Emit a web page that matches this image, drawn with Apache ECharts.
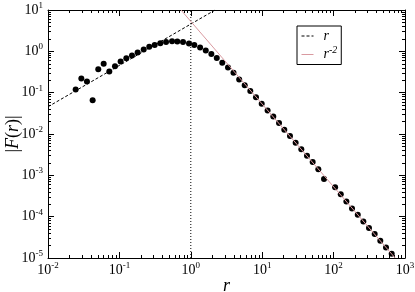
<!DOCTYPE html>
<html>
<head>
<meta charset="utf-8">
<script src="https://cdn.jsdelivr.net/npm/echarts@6/dist/echarts.min.js"></script>
<style>
  html, body { margin: 0; padding: 0; background: #fff; }
  #chart { width: 415px; height: 292px; }
</style>
</head>
<body>
<div id="chart"></div>
<script>
// ---- data ----
const rVals = [0.0244, 0.0293, 0.0351, 0.0422, 0.0506, 0.0602, 0.0722, 0.0867, 0.104, 0.125,
  0.150, 0.180, 0.219, 0.262, 0.312, 0.374, 0.450, 0.546, 0.647, 0.778,
  0.944, 1.12, 1.35, 1.62, 1.94, 2.31, 2.76, 3.32, 3.96, 4.76,
  5.69, 6.81, 8.18, 9.84, 11.9, 14.3, 17.2, 20.4, 24.5, 29.4,
  35.3, 42.4, 50.9, 61.1, 73.4, 105, 126, 151, 181, 218,
  261, 313, 376, 451, 542, 651]
const fVals = [0.120, 0.221, 0.187, 0.066, 0.371, 0.498, 0.326, 0.438, 0.568, 0.683,
  0.793, 0.937, 1.11, 1.29, 1.43, 1.57, 1.69, 1.76, 1.74, 1.69,
  1.55, 1.42, 1.24, 1.05, 0.867, 0.694, 0.526, 0.409, 0.305, 0.209,
  0.152, 0.109, 0.0773, 0.0536, 0.0369, 0.0264, 0.0184, 0.0127, 0.00894, 0.00617,
  0.00427, 0.00299, 0.00211, 0.00141, 0.000811, 0.000516, 0.000350, 0.000232, 0.000157, 0.000112,
  0.0000760, 0.0000532, 0.0000379, 0.0000263, 0.0000179, 0.0000127]

// 参考线 r（虚线）和 r^-2（粉线），端点
const lineRX = [0.01, 2.19]
const lineRY = [0.0456, 10]
const lineR2X = [0.728, 728]
const lineR2Y = [10, 0.00001]
// x = 1 的竖直点线
const vLineX = [1, 1]
const vLineY = [0.00001, 10]

// 刻度
const xTickExp = [-2, -1, 0, 1, 2, 3]
const yTickExp = [-5, -4, -3, -2, -1, 0, 1]

const xMajor = xTickExp.map(e => Math.pow(10, e))
const yMajor = yTickExp.map(e => Math.pow(10, e))
function minorOf(major) {
  const out = []
  major.slice(0, -1).forEach(d => { for (let k = 2; k <= 9; k++) out.push(d * k) })
  return out
}
const xMinor = minorOf(xMajor)
const yMinor = minorOf(yMajor)

const serif = 'Liberation Serif'
const tickRich = {
  b: { fontSize: 14, fontFamily: serif, color: '#000' },
  s: { fontSize: 9, fontFamily: serif, color: '#000', padding: [0, 0, 9, 0] }
}
function powLabel(v) {
  const e = Math.round(Math.log10(v))
  return '{b|10}{s|' + e + '}'
}

function logAxis(kind, pos, ticks, len, withLabel, withLine) {
  const isX = kind === 'x'
  return {
    type: 'log',
    logBase: 10,
    position: pos,
    min: isX ? 0.01 : 0.00001,
    max: isX ? 1000 : 10,
    axisLine: { show: withLine, onZero: false, lineStyle: { color: '#000', width: 1 } },
    axisTick: { show: true, inside: true, length: len, customValues: ticks, lineStyle: { color: '#000', width: 1 } },
    axisLabel: withLabel
      ? { show: true, customValues: ticks, formatter: powLabel, rich: tickRich, margin: isX ? 3 : 5 }
      : { show: false },
    splitLine: { show: false },
    minorTick: { show: false }
  }
}

const chart = echarts.init(document.getElementById('chart'))
chart.setOption({
  animation: false,
  backgroundColor: '#fff',
  grid: { left: 48, right: 10, top: 10, bottom: 34, containLabel: false, outerBoundsMode: 'none' },
  xAxis: [
    Object.assign(logAxis('x', 'bottom', xMajor, 6, true, true), {
      name: 'r', nameLocation: 'middle', nameGap: 19, nameMoveOverlap: false,
      nameTextStyle: { fontFamily: serif, fontStyle: 'italic', fontSize: 18, color: '#000' }
    }),
    logAxis('x', 'bottom', xMinor, 3, false, false),
    logAxis('x', 'top', xMajor, 6, false, true),
    logAxis('x', 'top', xMinor, 3, false, false)
  ],
  yAxis: [
    Object.assign(logAxis('y', 'left', yMajor, 6, true, true), {
      name: '{n||}{i|F}{n|(}{i|r}{n|)|}', nameLocation: 'middle', nameGap: 26, nameRotate: 90,
      nameMoveOverlap: false,
      nameTextStyle: {
        rich: {
          n: { fontFamily: serif, fontSize: 18, color: '#000' },
          i: { fontFamily: serif, fontSize: 18, fontStyle: 'italic', color: '#000' }
        }
      }
    }),
    logAxis('y', 'left', yMinor, 3, false, false),
    logAxis('y', 'right', yMajor, 6, false, true),
    logAxis('y', 'right', yMinor, 3, false, false)
  ],
  legend: {
    left: 297, top: 26,
    orient: 'vertical',
    backgroundColor: '#fff',
    borderColor: '#000', borderWidth: 1, borderRadius: 0,
    padding: [3, 4, 3, 4],
    itemWidth: 12, itemHeight: 8, itemGap: 2,
    itemStyle: { opacity: 0 },
    lineStyle: { width: 1 },
    data: ['r', 'r^-2'],
    formatter: name => name === 'r' ? '{i|r}' : '{i|r}{s|-2}',
    textStyle: {
      rich: {
        i: { fontFamily: serif, fontStyle: 'italic', fontSize: 14, color: '#000', padding: [0, 0, 0, 5] },
        s: { fontFamily: serif, fontStyle: 'italic', fontSize: 10, color: '#000', padding: [0, 0, 9, 0] }
      }
    }
  },
  series: [
    {
      name: 'r',
      type: 'line',
      data: lineRX.map((x, i) => [x, lineRY[i]]),
      symbol: 'none',
      lineStyle: { color: '#000', width: 1, type: [3, 2] },
      itemStyle: { color: '#000' },
      z: 3
    },
    {
      name: 'r^-2',
      type: 'line',
      data: lineR2X.map((x, i) => [x, lineR2Y[i]]),
      symbol: 'none',
      lineStyle: { color: '#d99aa0', width: 1 },
      itemStyle: { color: '#d99aa0' },
      z: 3
    },
    {
      name: 'x=1',
      type: 'line',
      data: vLineX.map((x, i) => [x, vLineY[i]]),
      symbol: 'none',
      lineStyle: { color: '#000', width: 1, type: [1, 2] },
      z: 2
    },
    {
      name: 'F',
      type: 'scatter',
      data: rVals.map((r, i) => [r, fVals[i]]),
      symbol: 'circle',
      symbolSize: 6,
      itemStyle: { color: '#000', opacity: 1 },
      z: 2
    }
  ]
})
</script>
</body>
</html>
